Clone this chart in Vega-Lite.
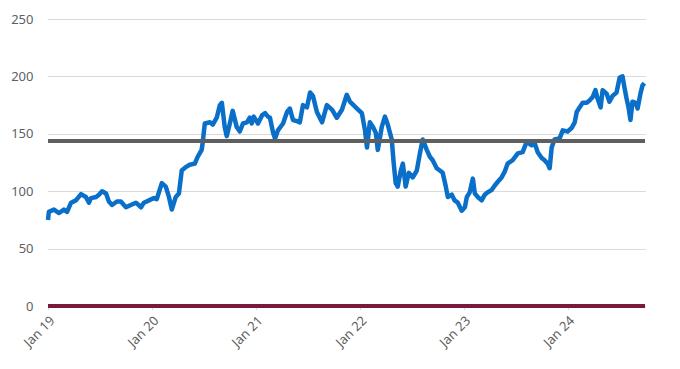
{
  "$schema": "https://vega.github.io/schema/vega-lite/v6.json",
  "width": 597,
  "height": 287,
  "autosize": {"type": "none"},
  "padding": {"left": 48, "top": 19, "right": 35, "bottom": 63},
  "background": "white",
  "config": {
    "view": {"stroke": null},
    "font": "Noto Sans",
    "axis": {"labelColor": "#5f5f5f", "labelFontSize": 13, "labelFont": "Noto Sans", "titleColor": "#595959"}
  },
  "data": {"values": [
    {"date": "2019-01-01", "v": 75}, {"date": "2019-01-04", "v": 82}, {"date": "2019-01-22", "v": 84},
    {"date": "2019-02-09", "v": 81}, {"date": "2019-02-26", "v": 84}, {"date": "2019-03-09", "v": 82},
    {"date": "2019-03-23", "v": 90}, {"date": "2019-04-09", "v": 92}, {"date": "2019-04-27", "v": 97.5},
    {"date": "2019-05-14", "v": 95}, {"date": "2019-05-25", "v": 90}, {"date": "2019-06-01", "v": 94},
    {"date": "2019-06-19", "v": 95}, {"date": "2019-06-29", "v": 97}, {"date": "2019-07-10", "v": 100},
    {"date": "2019-07-24", "v": 98}, {"date": "2019-08-03", "v": 91}, {"date": "2019-08-14", "v": 88},
    {"date": "2019-08-31", "v": 91}, {"date": "2019-09-14", "v": 91}, {"date": "2019-10-02", "v": 86},
    {"date": "2019-10-19", "v": 88}, {"date": "2019-11-06", "v": 90}, {"date": "2019-11-24", "v": 86},
    {"date": "2019-12-04", "v": 90}, {"date": "2019-12-22", "v": 92},
    {"date": "2020-01-08", "v": 94}, {"date": "2020-01-18", "v": 93}, {"date": "2020-02-05", "v": 107},
    {"date": "2020-02-19", "v": 104}, {"date": "2020-03-01", "v": 95}, {"date": "2020-03-11", "v": 84},
    {"date": "2020-03-25", "v": 95}, {"date": "2020-04-05", "v": 98}, {"date": "2020-04-15", "v": 118},
    {"date": "2020-04-29", "v": 121}, {"date": "2020-05-13", "v": 123}, {"date": "2020-05-31", "v": 124},
    {"date": "2020-06-10", "v": 130}, {"date": "2020-06-24", "v": 136}, {"date": "2020-06-28", "v": 143},
    {"date": "2020-07-05", "v": 159}, {"date": "2020-07-23", "v": 160}, {"date": "2020-08-02", "v": 158},
    {"date": "2020-08-16", "v": 164}, {"date": "2020-08-27", "v": 175}, {"date": "2020-09-03", "v": 177},
    {"date": "2020-09-13", "v": 156}, {"date": "2020-09-20", "v": 148}, {"date": "2020-10-01", "v": 159},
    {"date": "2020-10-11", "v": 170}, {"date": "2020-10-25", "v": 156}, {"date": "2020-11-05", "v": 152},
    {"date": "2020-11-16", "v": 159}, {"date": "2020-11-30", "v": 160}, {"date": "2020-12-10", "v": 164},
    {"date": "2020-12-17", "v": 159}, {"date": "2020-12-24", "v": 165},
    {"date": "2021-01-08", "v": 159}, {"date": "2021-01-22", "v": 166}, {"date": "2021-02-02", "v": 168},
    {"date": "2021-02-12", "v": 165}, {"date": "2021-02-19", "v": 164}, {"date": "2021-03-02", "v": 151},
    {"date": "2021-03-09", "v": 146}, {"date": "2021-03-19", "v": 153}, {"date": "2021-04-06", "v": 159},
    {"date": "2021-04-20", "v": 169}, {"date": "2021-04-30", "v": 172}, {"date": "2021-05-11", "v": 162},
    {"date": "2021-05-25", "v": 161}, {"date": "2021-06-04", "v": 160}, {"date": "2021-06-15", "v": 175},
    {"date": "2021-06-29", "v": 173}, {"date": "2021-07-10", "v": 186}, {"date": "2021-07-20", "v": 183},
    {"date": "2021-08-03", "v": 169}, {"date": "2021-08-21", "v": 160}, {"date": "2021-09-07", "v": 175},
    {"date": "2021-09-25", "v": 171}, {"date": "2021-10-12", "v": 164}, {"date": "2021-10-30", "v": 171},
    {"date": "2021-11-16", "v": 184}, {"date": "2021-11-27", "v": 178}, {"date": "2021-12-22", "v": 172},
    {"date": "2022-01-08", "v": 168}, {"date": "2022-01-19", "v": 153}, {"date": "2022-01-26", "v": 138},
    {"date": "2022-02-05", "v": 160}, {"date": "2022-02-16", "v": 156}, {"date": "2022-02-26", "v": 151},
    {"date": "2022-03-05", "v": 136}, {"date": "2022-03-19", "v": 156}, {"date": "2022-03-30", "v": 165},
    {"date": "2022-04-09", "v": 158}, {"date": "2022-04-23", "v": 145}, {"date": "2022-04-30", "v": 124},
    {"date": "2022-05-07", "v": 107}, {"date": "2022-05-14", "v": 104}, {"date": "2022-05-25", "v": 118},
    {"date": "2022-06-01", "v": 124}, {"date": "2022-06-11", "v": 104}, {"date": "2022-06-22", "v": 116},
    {"date": "2022-07-06", "v": 112}, {"date": "2022-07-20", "v": 118}, {"date": "2022-07-31", "v": 133},
    {"date": "2022-08-10", "v": 145}, {"date": "2022-08-24", "v": 136}, {"date": "2022-09-04", "v": 130},
    {"date": "2022-09-14", "v": 127}, {"date": "2022-09-28", "v": 120}, {"date": "2022-10-09", "v": 118},
    {"date": "2022-10-19", "v": 116}, {"date": "2022-10-30", "v": 104}, {"date": "2022-11-06", "v": 95},
    {"date": "2022-11-20", "v": 97}, {"date": "2022-11-30", "v": 92}, {"date": "2022-12-11", "v": 90},
    {"date": "2022-12-25", "v": 83},
    {"date": "2023-01-05", "v": 86}, {"date": "2023-01-12", "v": 95}, {"date": "2023-01-22", "v": 99},
    {"date": "2023-02-02", "v": 111}, {"date": "2023-02-09", "v": 98}, {"date": "2023-02-19", "v": 95},
    {"date": "2023-03-05", "v": 92}, {"date": "2023-03-16", "v": 97}, {"date": "2023-03-26", "v": 99},
    {"date": "2023-04-09", "v": 101}, {"date": "2023-04-20", "v": 105}, {"date": "2023-04-30", "v": 108},
    {"date": "2023-05-14", "v": 112}, {"date": "2023-05-25", "v": 117}, {"date": "2023-06-04", "v": 124},
    {"date": "2023-06-22", "v": 127}, {"date": "2023-07-10", "v": 133}, {"date": "2023-07-27", "v": 134},
    {"date": "2023-08-10", "v": 143}, {"date": "2023-08-28", "v": 140}, {"date": "2023-09-07", "v": 142},
    {"date": "2023-09-18", "v": 134}, {"date": "2023-10-02", "v": 129}, {"date": "2023-10-12", "v": 127},
    {"date": "2023-10-23", "v": 124}, {"date": "2023-10-30", "v": 120}, {"date": "2023-11-06", "v": 138},
    {"date": "2023-11-16", "v": 145}, {"date": "2023-12-04", "v": 146}, {"date": "2023-12-15", "v": 153},
    {"date": "2024-01-01", "v": 152}, {"date": "2024-01-15", "v": 155}, {"date": "2024-01-26", "v": 160},
    {"date": "2024-02-02", "v": 169}, {"date": "2024-02-12", "v": 173}, {"date": "2024-02-23", "v": 177},
    {"date": "2024-03-08", "v": 177}, {"date": "2024-03-18", "v": 179}, {"date": "2024-03-29", "v": 182},
    {"date": "2024-04-08", "v": 188}, {"date": "2024-04-15", "v": 181}, {"date": "2024-04-26", "v": 173},
    {"date": "2024-05-03", "v": 188}, {"date": "2024-05-17", "v": 185}, {"date": "2024-05-27", "v": 178},
    {"date": "2024-06-07", "v": 183}, {"date": "2024-06-21", "v": 186}, {"date": "2024-07-02", "v": 199},
    {"date": "2024-07-12", "v": 200}, {"date": "2024-07-19", "v": 190}, {"date": "2024-07-26", "v": 181},
    {"date": "2024-08-02", "v": 173}, {"date": "2024-08-09", "v": 162}, {"date": "2024-08-16", "v": 178},
    {"date": "2024-08-27", "v": 177}, {"date": "2024-09-03", "v": 172}, {"date": "2024-09-13", "v": 185},
    {"date": "2024-09-20", "v": 192}, {"date": "2024-09-27", "v": 194}
  ]},
  "encoding": {
    "x": {
      "field": "date", "type": "temporal", "title": null,
      "scale": {"domain": ["2019-01-01", "2024-09-29"]},
      "axis": {
        "format": "%b %y", "tickCount": {"interval": "year", "step": 1},
        "labelAngle": -45, "grid": false,
        "domainColor": "#b5b5b5", "domainDash": [1, 1], "domainWidth": 1,
        "tickColor": "#b5b5b5", "tickSize": 3, "tickDash": [1, 1],
        "labelPadding": 5
      }
    },
    "y": {
      "field": "v", "type": "quantitative", "title": null,
      "scale": {"domain": [0, 250], "nice": false},
      "axis": {
        "values": [0, 50, 100, 150, 200, 250],
        "domain": false, "ticks": false, "labelPadding": 15,
        "gridColor": "#b5b5b5", "gridDash": [1, 1], "gridWidth": 1
      }
    }
  },
  "layer": [
    {"mark": {"type": "line", "color": "#0a6fc8", "strokeWidth": 4.5, "strokeJoin": "round"}},
    {"mark": {"type": "rule", "color": "#5f5f5f", "strokeWidth": 3}, "encoding": {"y": {"datum": 144}, "x": {"value": 0}, "x2": {"value": 597}}},
    {"mark": {"type": "rule", "color": "#7a1a3c", "strokeWidth": 2.5}, "encoding": {"y": {"datum": 0}, "x": {"value": 0}, "x2": {"value": 597}}}
  ]
}
